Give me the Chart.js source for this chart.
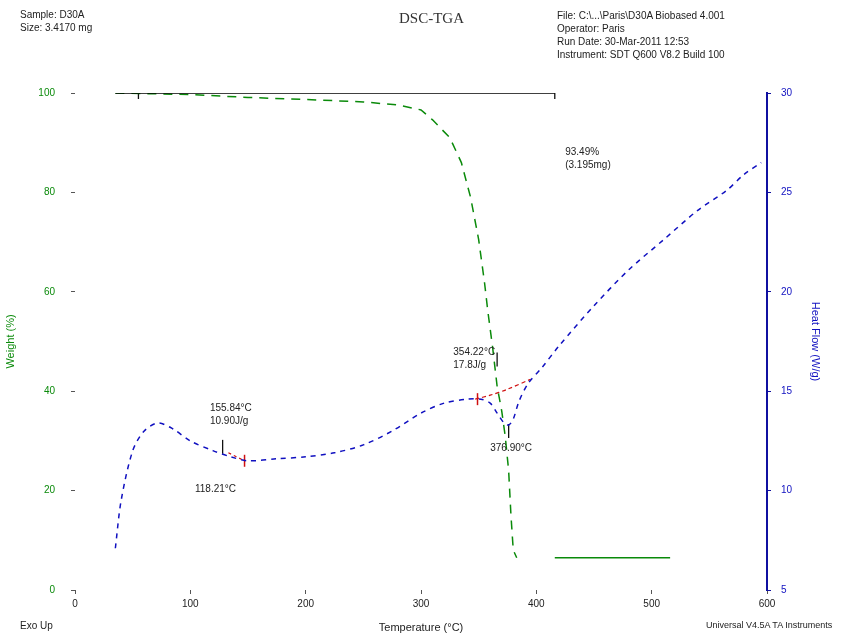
<!DOCTYPE html>
<html>
<head>
<meta charset="utf-8">
<script src="https://cdn.jsdelivr.net/npm/chart.js@4"></script>
<style>
  body { margin: 0; background: #fff; }
  #wrap { position: relative; width: 847px; height: 639px; }
  .txt { position: absolute; font-family: "Liberation Sans", Arial, sans-serif; font-size: 10px; line-height: 13px; color: #222; white-space: pre; }
  #titre { position: absolute; left: 8px; width: 847px; top: 10px; text-align: center; font-family: "Liberation Serif", serif; font-size: 15px; color: #333; }
</style>
</head>
<body>
<div id="wrap">
  <canvas id="grafico" width="847" height="639"></canvas>
  <div id="titre">DSC-TGA</div>
  <div class="txt" style="left:20px; top:8px;">Sample: D30A
Size: 3.4170 mg</div>
  <div class="txt" style="left:557px; top:9px;">File: C:\...\Paris\D30A Biobased 4.001
Operator: Paris
Run Date: 30-Mar-2011 12:53
Instrument: SDT Q600 V8.2 Build 100</div>
  <div class="txt" style="left:20px; top:619px;">Exo Up</div>
  <div class="txt" style="left:706px; top:619px; font-size:9px;">Universal V4.5A TA Instruments</div>
</div>
<script>
// Dados
// Curva de perda de massa (TGA)
const tempPeso = [35, 100, 150, 200, 250, 280, 300, 310, 325, 335, 343, 350, 355, 358, 362, 366, 370, 373, 376, 378, 380, 383];
const peso = [100, 99.7, 99.1, 98.7, 98.2, 97.6, 96.6, 94.6, 91, 86, 79, 70.5, 62, 56, 49, 41, 36, 31, 24, 15, 8, 6.5];

// Curva de fluxo de calor (DSC)
const tempFluxo = [35, 40, 50, 60, 72, 85, 100, 120, 135, 150, 175, 200, 225, 250, 275, 300, 320, 340, 352, 360, 366, 372, 376, 380, 385, 393, 405, 420, 450, 480, 510, 540, 565, 580, 595];
const fluxo = [7.1, 9.5, 12, 13, 13.4, 13.1, 12.5, 12.0, 11.7, 11.5, 11.6, 11.7, 11.9, 12.3, 13.0, 13.9, 14.4, 14.6, 14.6, 14.4, 13.9, 13.4, 13.3, 13.6, 14.5, 15.4, 16.2, 17.3, 19.3, 21.1, 22.6, 24.1, 25.1, 25.9, 26.5];

// Patamar final de massa e linha de degrau
const tempResiduo = [416, 516];
const residuo = [6.5, 6.5];
const tempDegrau = [35, 416];
const degrau = [100, 100];

// Linhas de base (integração dos picos)
const tempBase1 = [133, 147];
const base1 = [11.9, 11.5];
const tempBase2 = [347, 360, 375, 395];
const base2 = [14.6, 14.8, 15.1, 15.6];

// Marcadores dos limites de análise
const tempMarcaPreta = [128, 366, 376];
const marcaPreta = [12.2, 16.6, 13.0];
const tempMarcaVermelha = [147, 349];
const marcaVermelha = [11.5, 14.6];
const tempMarcaDegrau = [55, 416];
const marcaDegrau = [100, 100];

// Rótulos das escalas
const ticksX = [0, 100, 200, 300, 400, 500, 600];
const ticksPeso = [0, 20, 40, 60, 80, 100];
const ticksFluxo = [5, 10, 15, 20, 25, 30];

// Anotações: [temperatura, valor, eixo, texto]
const anotacoes = [
  [117, 14.4, 'y1', ['155.84°C', '10.90J/g']],
  [104, 10.3, 'y1', ['118.21°C']],
  [328, 17.2, 'y1', ['354.22°C', '17.8J/g']],
  [360, 12.4, 'y1', ['376.90°C']],
  [425, 89, 'y', ['93.49%', '(3.195mg)']]
];

function pares(xs, ys) {
  return xs.map((x, i) => ({ x: x, y: ys[i] }));
}

const fonte = '"Liberation Sans", Arial, sans-serif';

// Plugin para escrever as anotações nas coordenadas dos dados
const pluginAnotacoes = {
  id: 'anotacoes',
  afterDatasetsDraw(chart) {
    const ctx = chart.ctx;
    const sx = chart.scales.x;
    ctx.save();
    ctx.font = '10px ' + fonte;
    ctx.fillStyle = '#222';
    ctx.textBaseline = 'top';
    anotacoes.forEach(a => {
      const px = sx.getPixelForValue(a[0]);
      const py = chart.scales[a[2]].getPixelForValue(a[1]);
      a[3].forEach((linha, i) => ctx.fillText(linha, px, py + i * 13));
    });
    ctx.restore();
  }
};

const ctx = document.getElementById('grafico').getContext('2d');
new Chart(ctx, {
  type: 'scatter',
  data: {
    datasets: [
      { data: pares(tempDegrau, degrau), yAxisID: 'y', showLine: true, borderColor: '#000', borderWidth: 1.5, pointRadius: 0 },
      { data: pares(tempPeso, peso), yAxisID: 'y', showLine: true, borderColor: '#0a8a0a', borderWidth: 1.5, borderDash: [9, 7], pointRadius: 0 },
      { data: pares(tempResiduo, residuo), yAxisID: 'y', showLine: true, borderColor: '#0a8a0a', borderWidth: 1.5, pointRadius: 0 },
      { data: pares(tempFluxo, fluxo), yAxisID: 'y1', showLine: true, borderColor: '#1010c0', borderWidth: 1.5, borderDash: [5, 5], pointRadius: 0, tension: 0.3 },
      { data: pares(tempBase1, base1), yAxisID: 'y1', showLine: true, borderColor: '#d01010', borderWidth: 1.2, borderDash: [3, 3], pointRadius: 0 },
      { data: pares(tempBase2, base2), yAxisID: 'y1', showLine: true, borderColor: '#d01010', borderWidth: 1.2, borderDash: [4, 3], pointRadius: 0, tension: 0.3 },
      { data: pares(tempMarcaPreta, marcaPreta), yAxisID: 'y1', pointStyle: 'line', rotation: 90, pointRadius: 7, borderColor: '#111', borderWidth: 1.3 },
      { data: pares(tempMarcaVermelha, marcaVermelha), yAxisID: 'y1', pointStyle: 'line', rotation: 90, pointRadius: 6, borderColor: '#d01010', borderWidth: 1.5 },
      { data: pares(tempMarcaDegrau, marcaDegrau), yAxisID: 'y', pointStyle: 'line', rotation: 90, pointRadius: 6, borderColor: '#111', borderWidth: 1.3 }
    ]
  },
  options: {
    responsive: false,
    animation: false,
    layout: { padding: { top: 93, left: 0, right: 0, bottom: 0 } },
    plugins: { legend: { display: false }, tooltip: { enabled: false } },
    scales: {
      x: {
        type: 'linear', min: 0, max: 600,
        afterBuildTicks: s => { s.ticks = ticksX.map(v => ({ value: v })); },
        afterFit: s => { s.height = 49; },
        grid: { display: true, drawOnChartArea: false, tickLength: 4, color: '#555' },
        border: { display: false },
        ticks: { color: '#222', font: { family: fonte, size: 10 }, padding: 4 },
        title: { display: true, text: 'Temperature (°C)', color: '#222', font: { family: fonte, size: 11 }, padding: { top: 4 } }
      },
      y: {
        position: 'left', min: 0, max: 100,
        afterBuildTicks: s => { s.ticks = ticksPeso.map(v => ({ value: v })); },
        afterFit: s => { s.width = 75; },
        grid: { display: true, drawOnChartArea: false, tickLength: 4, color: '#555' },
        border: { display: false },
        ticks: { color: '#0a8a0a', font: { family: fonte, size: 10 }, padding: 16 },
        title: { display: true, text: 'Weight (%)', color: '#0a8a0a', font: { family: fonte, size: 11 }, padding: { bottom: 4 } }
      },
      y1: {
        position: 'right', min: 5, max: 30,
        afterBuildTicks: s => { s.ticks = ticksFluxo.map(v => ({ value: v })); },
        afterFit: s => { s.width = 80; },
        grid: { display: true, drawOnChartArea: false, tickLength: 4, color: '#1010a0' },
        border: { display: true, color: '#1010a0', width: 2 },
        ticks: { color: '#1010c0', font: { family: fonte, size: 10 }, padding: 10 },
        title: { display: true, text: 'Heat Flow (W/g)', color: '#1010c0', font: { family: fonte, size: 11 }, padding: { top: 25 } }
      }
    }
  },
  plugins: [pluginAnotacoes]
});
</script>
</body>
</html>
